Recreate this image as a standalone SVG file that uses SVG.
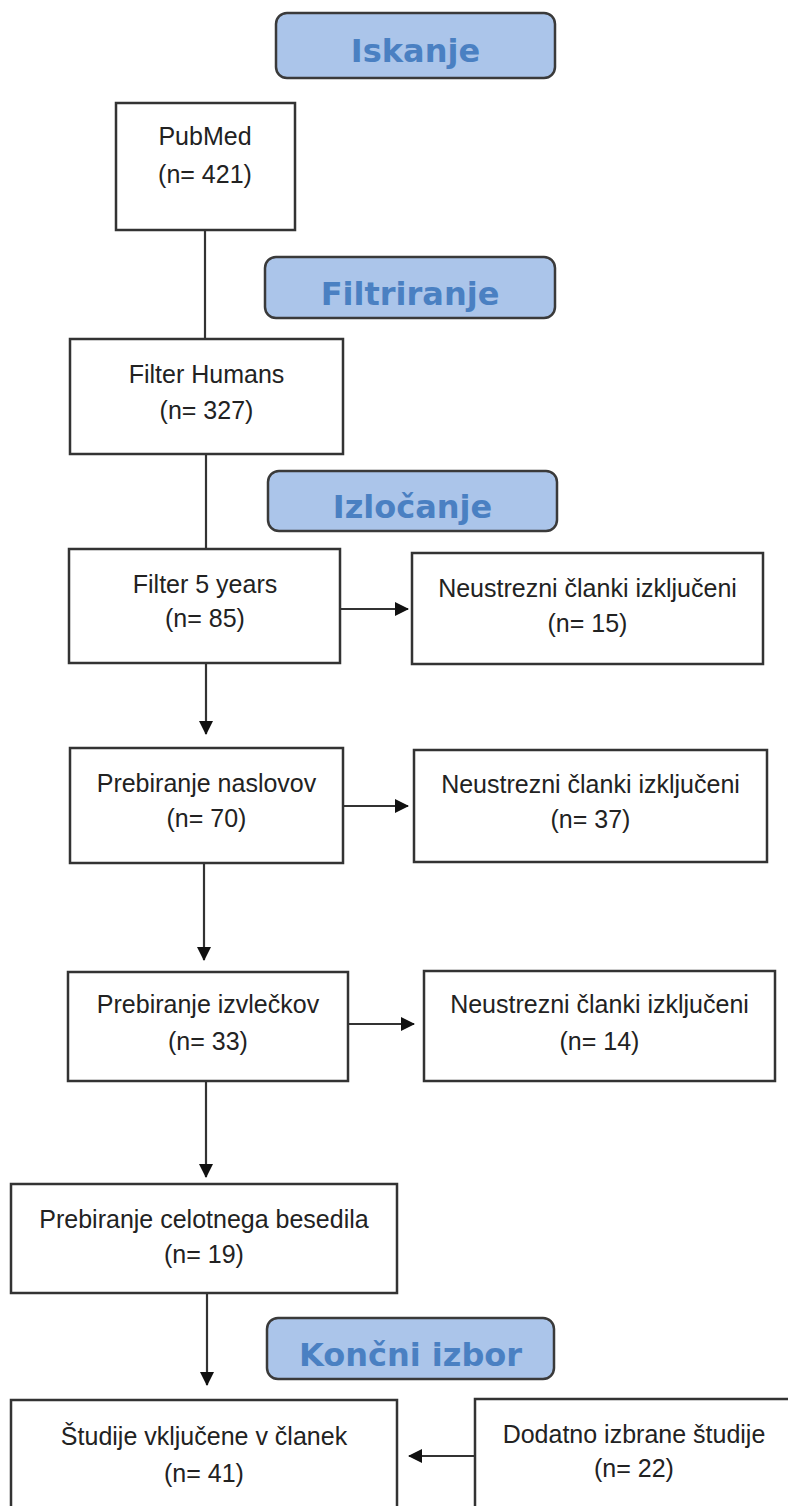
<svg xmlns="http://www.w3.org/2000/svg" width="788" height="1506" viewBox="0 0 788 1506">
<style>
.box{fill:#ffffff;stroke:#333333;stroke-width:2.5}
.stage{fill:#abc5ea;stroke:#3a3a3a;stroke-width:2.5}
.t{font-family:"Liberation Sans",Arial,sans-serif;font-size:25px;fill:#222222;text-anchor:middle}
.h{font-family:"DejaVu Sans",Verdana,sans-serif;font-weight:bold;font-size:32px;fill:#4a80c2;text-anchor:middle}
.c{stroke:#333333;stroke-width:2.2;fill:none}
.a{fill:#111111}
</style>
<defs>
<marker id="arr" viewBox="0 0 14 14" refX="13" refY="7" markerWidth="14" markerHeight="14" markerUnits="userSpaceOnUse" orient="auto">
<path d="M0,0 L14,7 L0,14 Z" class="a"/>
</marker>
</defs>
<rect width="788" height="1506" fill="#ffffff"/>
<g id="connectors">
<line class="c" x1="205" y1="230" x2="205" y2="339"/>
<line class="c" x1="206" y1="454" x2="206" y2="549"/>
<line class="c" x1="206" y1="663" x2="206" y2="734" marker-end="url(#arr)"/>
<line class="c" x1="340" y1="609" x2="408" y2="609" marker-end="url(#arr)"/>
<line class="c" x1="343" y1="806" x2="408" y2="806" marker-end="url(#arr)"/>
<line class="c" x1="204" y1="863" x2="204" y2="960" marker-end="url(#arr)"/>
<line class="c" x1="348" y1="1024" x2="414" y2="1024" marker-end="url(#arr)"/>
<line class="c" x1="206" y1="1081" x2="206" y2="1177" marker-end="url(#arr)"/>
<line class="c" x1="207" y1="1293" x2="207" y2="1385" marker-end="url(#arr)"/>
<line class="c" x1="475" y1="1456" x2="409" y2="1456" marker-end="url(#arr)"/>
</g>
<g id="stage-iskanje">
<rect class="stage" x="276" y="13" width="279" height="65" rx="11"/>
<text class="h" x="415.5" y="62">Iskanje</text>
</g>
<g id="pubmed">
<rect class="box" x="116" y="103" width="179" height="127"/>
<text class="t" x="205" y="145">PubMed</text>
<text class="t" x="205" y="183">(n= 421)</text>
</g>
<g id="stage-filtriranje">
<rect class="stage" x="265" y="257" width="290" height="61" rx="11"/>
<text class="h" x="410" y="305">Filtriranje</text>
</g>
<g id="filter-humans">
<rect class="box" x="70" y="339" width="273" height="115"/>
<text class="t" x="206.5" y="383">Filter Humans</text>
<text class="t" x="206.5" y="419">(n= 327)</text>
</g>
<g id="stage-izlocanje">
<rect class="stage" x="268" y="471" width="289" height="60" rx="11"/>
<text class="h" x="412.5" y="518">Izločanje</text>
</g>
<g id="filter-5-years">
<rect class="box" x="69" y="549" width="271" height="114"/>
<text class="t" x="205" y="593">Filter 5 years</text>
<text class="t" x="205" y="627">(n= 85)</text>
</g>
<g id="excluded-15">
<rect class="box" x="412" y="553" width="351" height="111"/>
<text class="t" x="587.5" y="597">Neustrezni članki izključeni</text>
<text class="t" x="587.5" y="632">(n= 15)</text>
</g>
<g id="prebiranje-naslovov">
<rect class="box" x="70" y="748" width="273" height="115"/>
<text class="t" x="206.5" y="792">Prebiranje naslovov</text>
<text class="t" x="206.5" y="827">(n= 70)</text>
</g>
<g id="excluded-37">
<rect class="box" x="414" y="750" width="353" height="112"/>
<text class="t" x="590.5" y="793">Neustrezni članki izključeni</text>
<text class="t" x="590.5" y="828">(n= 37)</text>
</g>
<g id="prebiranje-izvleckov">
<rect class="box" x="68" y="972" width="280" height="109"/>
<text class="t" x="208" y="1013">Prebiranje izvlečkov</text>
<text class="t" x="208" y="1050">(n= 33)</text>
</g>
<g id="excluded-14">
<rect class="box" x="424" y="971" width="351" height="110"/>
<text class="t" x="599.5" y="1013">Neustrezni članki izključeni</text>
<text class="t" x="599.5" y="1050">(n= 14)</text>
</g>
<g id="prebiranje-celotnega">
<rect class="box" x="11" y="1184" width="386" height="109"/>
<text class="t" x="204" y="1228">Prebiranje celotnega besedila</text>
<text class="t" x="204" y="1263">(n= 19)</text>
</g>
<g id="stage-koncni">
<rect class="stage" x="267" y="1318" width="287" height="61" rx="11"/>
<text class="h" x="410.5" y="1366">Končni izbor</text>
</g>
<g id="studije-vkljucene">
<rect class="box" x="11" y="1400" width="386" height="130"/>
<text class="t" x="204" y="1445">Študije vključene v članek</text>
<text class="t" x="204" y="1482">(n= 41)</text>
</g>
<g id="dodatno-izbrane">
<rect class="box" x="475" y="1399" width="330" height="130"/>
<text class="t" x="634" y="1443">Dodatno izbrane študije</text>
<text class="t" x="634" y="1477">(n= 22)</text>
</g>
</svg>
